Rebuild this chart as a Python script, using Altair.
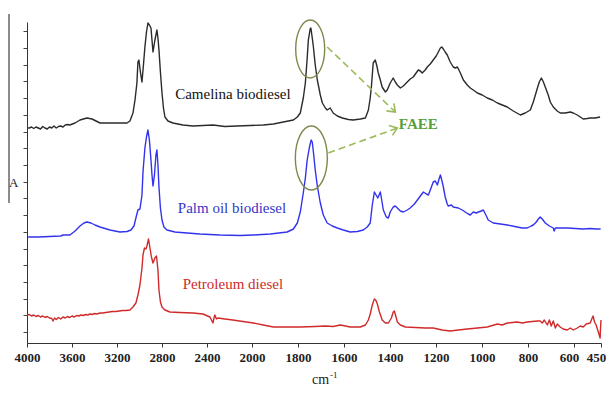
import altair as alt
import pandas as pd

# ---------------- data ----------------
# wavenumber (cm-1) and absorbance (arbitrary units, traces offset)
camelina_wn = [3990,3980,3960,3940,3920,3900,3880,3860,3840,3820,3800,3780,3760,3740,3720,3700,3680,3660,3640,3620,
               3573,3529,3467,3422,3351,3263,3174,3111,3085,3058,3040,3023,3014,3005,2992,2978,2965,2952,2938,2925,
               2912,2898,2889,2880,2863,2845,2836,2827,2814,2800,2787,2774,2747,2703,2614,2525,2436,2347,2241,2134,
               2018,1951,1907,1864,1820,1803,1790,1777,1768,1760,1755,1747,1744,1738,1733,1725,1716,1703,1694,1681,
               1673,1660,1647,1629,1607,1581,1560,1529,1507,1494,1486,1481,1473,1464,1457,1451,1442,1434,1420,1412,
               1399,1386,1377,1368,1355,1342,1325,1312,1299,1277,1268,1260,1247,1238,1225,1212,1199,1190,1181,1175,
               1168,1160,1151,1138,1125,1116,1107,1094,1081,1064,1051,1038,1020,999,977,955,933,912,890,864,
               833,812,790,777,768,759,751,742,733,725,712,703,690,673,660,638,616,603,582,565,
               549,527,510,483,455]
camelina_a = [204,204,205,203.5,205,204,203,205.5,204,203,205,204,206,204,205.5,206,205,207,207.5,207,
              209,212,214,213,209,209,209,209,211,219,232,249,270,272,260,250,267,285,300,309,
              307,304,292,280,292,302,294,282,260,239,224,215,211,209,207,206,206.5,207,205.5,206,
              206.5,207,208,210,212,215,219,234,249,274,292,303,304,294,285,267,252,237,229,224,
              222,224,219,216,214,212.5,212,213,214,222,234,245,269,272,266,259,252,245,240,242,
              249,254,250,247,244,246,250,253,255,262,261,259,262,265,268,272,276,280,284,285,
              283,280,277,270,265,264,265,259,252,247,244,242,239,237,234,232,229,227,225,221,
              217,219,222,230,237,244,250,254,250,245,237,230,225,221,219,219,220,219,217,215,
              213,213.5,214,214,215]

palm_wn = [3990,3900,3800,3700,3680,3618,3573,3529,3494,3467,3431,3396,3351,3263,3174,3111,3076,3049,3032,3014,
           2996,2978,2969,2952,2938,2925,2912,2898,2889,2880,2867,2854,2845,2836,2827,2814,2800,2783,2756,2685,
           2578,2463,2285,2107,1994,1920,1847,1820,1803,1790,1777,1768,1760,1751,1743,1738,1733,1725,1716,1703,
           1690,1673,1651,1629,1603,1573,1542,1516,1499,1486,1477,1468,1453,1442,1436,1429,1416,1407,1399,1386,
           1377,1368,1355,1342,1325,1312,1294,1281,1268,1255,1242,1233,1220,1212,1203,1194,1188,1181,1175,1168,
           1160,1151,1147,1133,1125,1103,1086,1073,1060,1051,1038,1025,1016,1003,994,981,973,951,920,890,
           868,847,825,803,786,777,764,755,747,738,725,707,690,686,681,660,629,593,549,510,
           477,452]
palm_a = [95,95,95.5,96,97,97,101,106,109,110,109,107,105,102,100,100.5,102,106,114,122,
          123,137,160,184,195,202,192,172,157,146,157,177,182,167,145,124,112,105,102,100,
          99,98,97,96.5,97,98,100,103,109,120,139,154,172,184,192,190,180,162,146,129,
          117,109,106,104,102,100,100.5,102,105,109,127,140,134,140,132,122,115,114,120,125,
          126,124,121,120,122,124,128,132,136,140,138,137,145,150,151,147,152,157,152,145,
          135,128,126,127,125,124,122,120,118,117,120,119,120,121,122,116,112,109,108,107,
          106,105,104,104,106,107,110,113,115,113,109,106,104,101,104,104,104,103.5,103,103.5,
          103,103]

petroleum_wn = [4000,3980,3960,3940,3920,3900,3880,3860,3840,3820,3800,3780,3769,3755,3740,3720,3700,3680,3660,3640,
                3620,3600,3580,3560,3540,3520,3500,3480,3460,3440,3420,3400,3380,3350,3325,3300,3270,3240,3210,3180,
                3150,3120,3085,3058,3032,3014,2996,2978,2969,2956,2943,2934,2920,2907,2894,2880,2863,2849,2836,2827,
                2814,2800,2774,2729,2640,2525,2436,2374,2356,2347,2338,2330,2316,2303,2241,2170,2081,1994,1951,1907,
                1855,1790,1725,1681,1647,1616,1594,1573,1529,1507,1494,1486,1477,1468,1462,1455,1446,1434,1420,1407,
                1394,1386,1381,1375,1368,1355,1333,1290,1246,1212,1173,1138,1103,1064,1020,977,955,933,912,890,
                868,847,825,803,781,759,747,738,729,716,707,699,690,681,673,660,647,629,616,603,
                582,565,549,532,510,499,494,486,477,472,463,455,452,450]
petroleum_a = [17,17.5,16,17,15.5,16.5,15,16,14.5,15.5,14,13.5,11,14,12.5,14.5,13,15,14,15.5,
               14.5,16,15,16.5,16,17,16.5,17.5,17,18,17.5,18.5,18,19,19,19.5,20,20.5,20.5,21,
               21.5,21.5,22,25,29,37,47,64,77,84,83,86,93,84,75,69,74,76,62,42,
               30,25,22,20,19.5,19,18,15,11,9,14,17,13,14,13,12,10.5,9,7,5,
               5,5,5.5,6,5.5,7,6,5,5,7,12,18,27,33,32,28,20,12,9,9,
               14,20,21,16,10,7,5,4.5,4,4,2,1,2,3,4,5,6.5,8,7,9,
               9.5,10,9,10,10.5,11,11,9,12,7,12,6,11,4,8,5,3,2,4,2,
               4,6,5,8,9,14,16,10,7,4,-1,-6,6,12]

series_names = ["Camelina biodiesel", "Palm oil biodiesel", "Petroleum diesel"]
series_colors = ["#2b2b2b", "#3333ee", "#d02a2a"]
label_colors = ["#111111", "#3535c8", "#d02a2a"]

# series label anchors (wavenumber, absorbance)
label_wn = [2170, 2178, 2170]
label_a = [238, 124, 48]

# FAEE annotation: circled C=O peaks and arrows toward the label
faee_wn, faee_a = 1277, 208
ring_wn = [1747, 1742]
ring_a = [283, 174]
arrow_from_wn = [1673, 1668]
arrow_from_a = [285, 179]
arrow_to_wn = [1377, 1368]
arrow_to_a = [220, 204]

x_ticks = [4000, 3600, 3200, 2800, 2400, 2000, 1800, 1600, 1400, 1200, 1000, 800, 600, 450]

# ---------------- tables ----------------
rows = []
for name, wn, a in [(series_names[0], camelina_wn, camelina_a),
                    (series_names[1], palm_wn, palm_a),
                    (series_names[2], petroleum_wn, petroleum_a)]:
    for w, v in zip(wn, a):
        rows.append({"series": name, "wn": w, "a": v})
spectra = pd.DataFrame(rows)

labels = pd.DataFrame({"wn": label_wn, "a": label_a, "text": series_names, "col": label_colors})
rings = pd.DataFrame({"wn": ring_wn, "a": ring_a, "sz": [3364, 4096]})
arrows = pd.DataFrame({"x1": arrow_from_wn, "y1": arrow_from_a, "x2": arrow_to_wn, "y2": arrow_to_a,
                       "ang": [44, 340]})
faee = pd.DataFrame({"wn": [faee_wn], "a": [faee_a], "text": ["FAEE"]})
one = pd.DataFrame({"d": [0]})

W, H = 574, 321
xscale = alt.Scale(domain=[4000, 2000, 600, 450], range=[0, 225, 547, W], nice=False)
yscale = alt.Scale(domain=[-11, 310], nice=False, zero=False)
y_ticks = [i * 16.7 for i in range(19)]

serif = "Liberation Serif"

xenc = alt.X("wn:Q", scale=xscale,
             axis=alt.Axis(values=x_ticks, tickCount=30, format="d", title=None, grid=False,
                           labelFont=serif, labelFontWeight="bold", labelFontSize=13,
                           labelColor="#222222", labelPadding=4, tickSize=4,
                           tickColor="#333333", domainColor="#333333",
                           labelOffset={"condition": {"test": "datum.value <= 600", "value": -5},
                                        "value": 0},
                           labelOverlap=False, labelFlush=False))
yenc = alt.Y("a:Q", scale=yscale,
             axis=alt.Axis(values=y_ticks, tickCount=40, labels=False, title=None, grid=False,
                           tickSize=4, tickColor="#444444", tickWidth=1, domainColor="#333333"))

lines = alt.Chart(spectra).mark_line(strokeWidth=1.4, strokeJoin="round").encode(
    x=xenc, y=yenc,
    color=alt.Color("series:N", scale=alt.Scale(domain=series_names, range=series_colors), legend=None),
)

ellipse_path = ("M 0 -1 C 0.276 -1 0.5 -0.552 0.5 0 C 0.5 0.552 0.276 1 0 1 "
                "C -0.276 1 -0.5 0.552 -0.5 0 C -0.5 -0.552 -0.276 -1 0 -1 Z")
ring_layer = alt.Chart(rings).mark_point(shape=ellipse_path, filled=False, stroke="#7b8a4b",
                                         strokeWidth=1.4, opacity=1).encode(
    x=alt.X("wn:Q", scale=xscale), y=alt.Y("a:Q", scale=yscale),
    size=alt.Size("sz:Q", scale=None),
)

arrow_lines = alt.Chart(arrows).mark_rule(color="#9bbb59", strokeWidth=1.6, strokeDash=[7, 4]).encode(
    x=alt.X("x1:Q", scale=xscale), y=alt.Y("y1:Q", scale=yscale),
    x2="x2:Q", y2="y2:Q",
)
arrow_heads = alt.Chart(arrows).mark_point(shape="M -1 -0.75 L 0 0 L -1 0.75", filled=False,
                                           stroke="#9bbb59", strokeWidth=1.6, size=200, opacity=1).encode(
    x=alt.X("x2:Q", scale=xscale), y=alt.Y("y2:Q", scale=yscale),
    angle=alt.Angle("ang:Q", scale=None),
)

label_layer = alt.Chart(labels).mark_text(font=serif, fontSize=15).encode(
    x=alt.X("wn:Q", scale=xscale), y=alt.Y("a:Q", scale=yscale),
    text="text:N", color=alt.Color("col:N", scale=None),
)
faee_layer = alt.Chart(faee).mark_text(font=serif, fontSize=15, fontWeight="bold", color="#55a03a").encode(
    x=alt.X("wn:Q", scale=xscale), y=alt.Y("a:Q", scale=yscale), text="text:N",
)

a_bar = alt.Chart(one).mark_rule(color="#666666", strokeWidth=1.5).encode(
    x=alt.value(-18), y=alt.value(-8), y2=alt.value(181))
a_text = alt.Chart(one).mark_text(font=serif, fontSize=13, align="left", baseline="alphabetic",
                                  color="#222222").encode(
    x=alt.value(-18), y=alt.value(165), text=alt.value("A"))
cm_text = alt.Chart(one).mark_text(font=serif, fontSize=14, align="left", baseline="alphabetic",
                                   color="#222222").encode(
    x=alt.value(285), y=alt.value(362), text=alt.value("cm"))
cm_sup = alt.Chart(one).mark_text(font=serif, fontSize=9, align="left", baseline="alphabetic",
                                  color="#222222").encode(
    x=alt.value(303), y=alt.value(356), text=alt.value("-1"))

chart = alt.layer(
    lines, ring_layer, arrow_lines, arrow_heads, label_layer, faee_layer,
    a_bar, a_text, cm_text, cm_sup,
).properties(
    width=W, height=H,
    autosize=alt.AutoSizeParams(type="none"),
    padding={"left": 19, "top": 14, "right": 7, "bottom": 43},
    background="white",
).configure_view(stroke=None)

chart.save("out.html", embed_options={"renderer": "svg", "actions": False})
